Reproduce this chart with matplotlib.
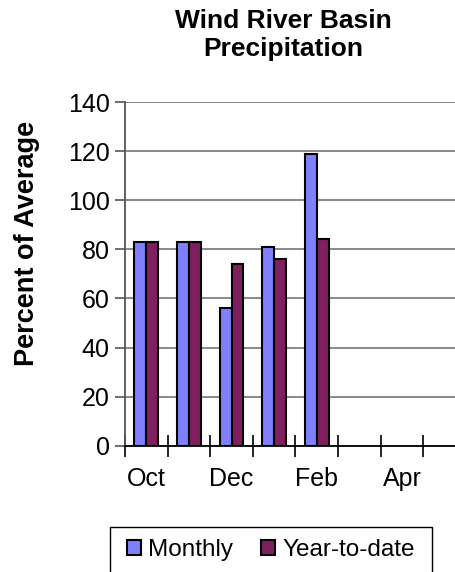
import numpy as np
import matplotlib.pyplot as plt
from matplotlib.patches import Rectangle

plt.rcParams['font.family'] = ['Liberation Sans', 'DejaVu Sans']

months = ['Oct', 'Nov', 'Dec', 'Jan', 'Feb', 'Mar', 'Apr', 'May']
month_labels = ['Oct', '', 'Dec', '', 'Feb', '', 'Apr', '']
monthly = [83, 83, 56, 81, 119]
year_to_date = [83, 83, 74, 76, 84]

W, H = 455, 572
fig = plt.figure(figsize=(W / 100, H / 100), dpi=100)
ax = fig.add_axes([125 / W, 1 - 445.7 / H, 330 / W, (445.7 - 102) / H])

x = np.arange(len(monthly))
w = 0.28
ax.bar(x - w / 2, monthly, w, color='#8080FF', edgecolor='black', linewidth=1.5,
       label='Monthly', zorder=3)
ax.bar(x + w / 2, year_to_date, w, color='#7F1F5F', edgecolor='black', linewidth=1.5,
       label='Year-to-date', zorder=3)

ax.set_xlim(-0.5, -0.5 + 330 / 42.6)
ax.set_ylim(0, 140)
ax.set_yticks(np.arange(0, 141, 20))
ax.yaxis.grid(True, color='#808080', linewidth=1.3, zorder=0)
ax.set_axisbelow(True)

ax.set_xticks(np.arange(len(months)))
ax.set_xticklabels(month_labels)
ax.set_xticks(np.arange(len(months)) - 0.5, minor=True)
ax.tick_params(axis='x', which='major', length=0, labelsize=18, pad=15)
ax.tick_params(axis='x', which='minor', direction='inout', length=16, width=1.2, color='black')
ax.tick_params(axis='y', length=7, width=1.2, color='#555555', labelsize=18, pad=4)

for s in ['top', 'right']:
    ax.spines[s].set_visible(False)
ax.spines['left'].set_color('#555555')
ax.spines['left'].set_linewidth(1.3)
ax.spines['bottom'].set_color('black')
ax.spines['bottom'].set_linewidth(1.3)
ax.spines['bottom'].set_zorder(4)

ax.set_ylabel('Percent of Average', fontsize=19.5, fontweight='bold')
ax.yaxis.set_label_coords((40 - 125) / 330, 1 - (243 - 102) / 343.7)

fig.text(283.5 / W, 1 - 9 / H, 'Wind River Basin\nPrecipitation', ha='center', va='top',
         fontsize=19, fontweight='bold', linespacing=1.2)

# legend: entries without frame, box drawn separately
leg = fig.legend(loc='center', bbox_to_anchor=(271 / W, 1 - 550 / H), ncol=2,
                 fontsize=17.5, frameon=False,
                 handlelength=0.58, handleheight=0.58, handletextpad=0.29,
                 columnspacing=1.15, borderpad=0)
fig.add_artist(Rectangle((110 / W, 1 - 576 / H), 322 / W, 49 / H, transform=fig.transFigure,
                         facecolor='none', edgecolor='black', linewidth=1.0))

fig.savefig('out.png', dpi=100)
